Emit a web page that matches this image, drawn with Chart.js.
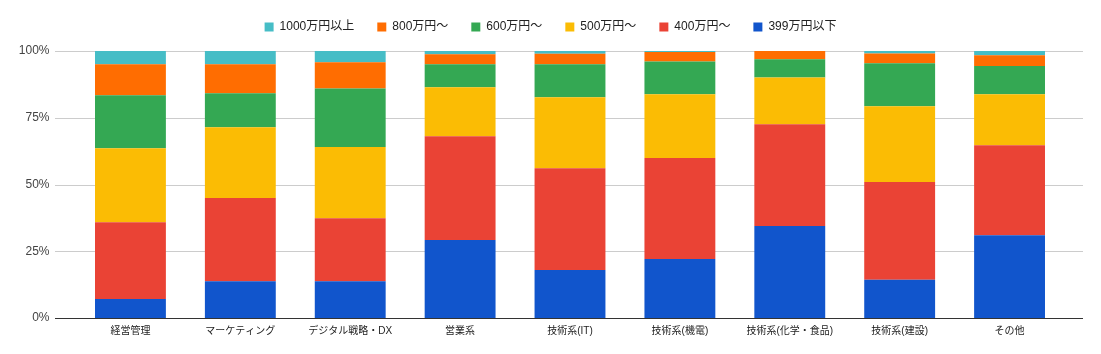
<!DOCTYPE html>
<html>
<head>
<meta charset="utf-8">
<script src="https://cdn.jsdelivr.net/npm/chart.js@4.4.1/dist/chart.umd.min.js"></script>
<style>
  html, body { margin: 0; padding: 0; background: #fff; }
  #wrap { width: 1101px; height: 354px; }
</style>
</head>
<body>
<div id="wrap"><canvas id="chart" width="1101" height="354"></canvas></div>
<script>
// categories (x axis)
const categories = ['経営管理', 'マーケティング', 'デジタル戦略・DX', '営業系', '技術系(IT)', '技術系(機電)', '技術系(化学・食品)', '技術系(建設)', 'その他'];

// share of each salary band per category, in %
const band399 = [7.1, 13.8, 13.8, 29.2, 18.0, 22.1, 34.5, 14.3, 31.0];
const band400 = [28.8, 31.1, 23.6, 38.9, 38.1, 37.8, 38.1, 36.6, 33.7];
const band500 = [27.7, 26.5, 26.6, 18.3, 26.6, 23.9, 17.5, 28.4, 19.1];
const band600 = [19.8, 12.8, 22.0, 8.6, 12.3, 12.3, 6.8, 16.1, 10.6];
const band800 = [11.6, 10.8, 9.8, 3.8, 4.0, 3.5, 3.1, 3.7, 4.0];
const band1000 = [5.0, 5.0, 4.2, 1.2, 1.0, 0.4, 0.0, 0.9, 1.6];

const seriesNames = ['399万円以下', '400万円～', '500万円～', '600万円～', '800万円～', '1000万円以上'];
const seriesColors = ['#1155cc', '#ea4335', '#fbbc04', '#34a853', '#ff6d01', '#46bdc6'];
const seriesValues = [band399, band400, band500, band600, band800, band1000];

const yTicks = [0, 25, 50, 75, 100];

const FONT = "Arial, 'Liberation Sans', 'Noto Sans CJK JP', sans-serif";

// google-sheets style gridlines: run a bit past the category band on both sides
const wideGrid = {
  id: 'wideGrid',
  beforeDatasetsDraw(chart) {
    const ctx = chart.ctx;
    const area = chart.chartArea;
    const y = chart.scales.y;
    const x0 = area.left - 20.5;
    const x1 = area.right + 18.5;
    ctx.save();
    y.ticks.forEach(t => {
      if (t.value === 0) return;
      const py = Math.round(y.getPixelForValue(t.value)) + 0.5;
      ctx.strokeStyle = '#cccccc';
      ctx.lineWidth = 1;
      ctx.beginPath();
      ctx.moveTo(x0, py);
      ctx.lineTo(x1, py);
      ctx.stroke();
    });
    ctx.restore();
  },
  afterDatasetsDraw(chart) {
    const ctx = chart.ctx;
    const area = chart.chartArea;
    const py = Math.round(chart.scales.y.getPixelForValue(0)) + 0.5;
    ctx.save();
    ctx.strokeStyle = '#333333';
    ctx.lineWidth = 1;
    ctx.beginPath();
    ctx.moveTo(area.left - 20.5, py);
    ctx.lineTo(area.right + 18.5, py);
    ctx.stroke();
    ctx.restore();
  }
};

const datasets = seriesNames.map((name, i) => ({
  label: name,
  data: seriesValues[i],
  backgroundColor: seriesColors[i],
  borderWidth: 0,
  categoryPercentage: 1.0,
  barPercentage: 0.645
}));

new Chart(document.getElementById('chart').getContext('2d'), {
  type: 'bar',
  data: { labels: categories, datasets: datasets },
  plugins: [wideGrid],
  options: {
    responsive: false,
    animation: false,
    layout: { padding: { left: 0, right: 0, top: -2, bottom: 10 } },
    plugins: {
      tooltip: { enabled: false },
      // empty spacer box between legend and plot
      subtitle: {
        display: true,
        text: ' ',
        weight: 500,
        font: { size: 1, lineHeight: 1 },
        padding: { top: 0, bottom: 7 }
      },
      legend: {
        position: 'top',
        reverse: true,
        maxHeight: 50,
        labels: {
          boxWidth: 9,
          boxHeight: 9,
          padding: 23,
          color: '#222222',
          font: { family: FONT, size: 12 }
        }
      }
    },
    scales: {
      x: {
        stacked: true,
        grid: { display: false, drawTicks: false },
        border: { display: false },
        ticks: {
          color: '#222222',
          padding: 7,
          maxRotation: 0,
          autoSkip: false,
          font: { family: FONT, size: 10 }
        }
      },
      y: {
        stacked: true,
        min: 0,
        max: 100,
        afterBuildTicks(scale) { scale.ticks = yTicks.map(v => ({ value: v })); },
        afterFit(scale) { scale.width = 75.5; },
        grid: { display: false, drawTicks: false },
        border: { display: false },
        ticks: {
          color: '#444444',
          padding: 26,
          font: { family: FONT, size: 12 },
          callback: v => v + '%'
        }
      },
      // blank right-hand margin
      yRight: {
        position: 'right',
        display: true,
        afterFit(scale) { scale.width = 36.5; },
        grid: { display: false, drawTicks: false },
        border: { display: false },
        ticks: { display: false }
      }
    }
  }
});
</script>
</body>
</html>
